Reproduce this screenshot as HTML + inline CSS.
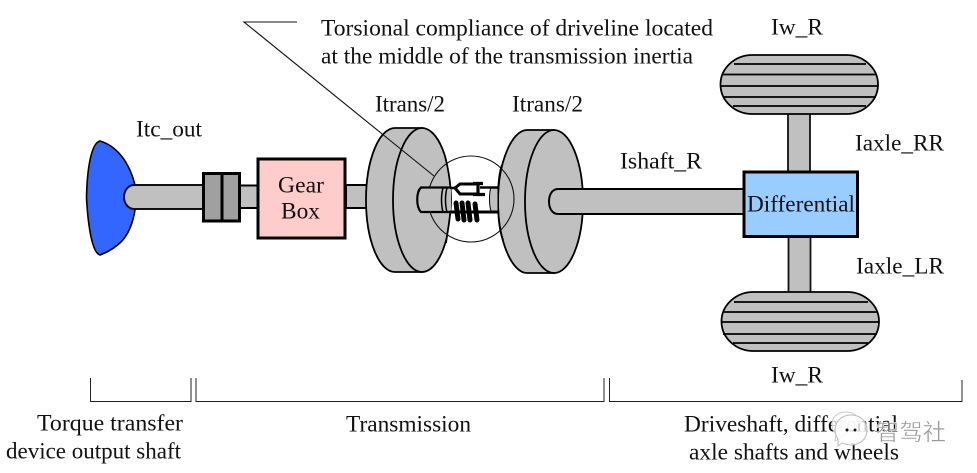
<!DOCTYPE html>
<html>
<head>
<meta charset="utf-8">
<style>
html,body{margin:0;padding:0;background:#fff;width:977px;height:473px;overflow:hidden}
svg{display:block}
text{font-family:"Liberation Serif","Noto Serif CJK SC",serif;font-size:23px;fill:#111}
</style>
</head>
<body>
<svg width="977" height="473" viewBox="0 0 977 473" xmlns="http://www.w3.org/2000/svg">
<rect width="977" height="473" fill="#fff"/>

<!-- Torque device -->
<path d="M100 141 C120 147 132 168 136 190 C137 210 132 230 122 241 C115 248 108 252 100 255 C92 253 88 225 86.500 198 C87 170 91 143 100 141Z" fill="#3366ff" stroke="#000" stroke-width="1.600"/>
<path d="M203 185 H134 C128 185 124 191 124 197 C124 203 128 209 134 209 H203" fill="#c0c0c0" stroke="#111" stroke-width="2"/>

<!-- Coupling + gearbox -->
<rect x="240" y="185.500" width="18" height="22.500" fill="#c0c0c0" stroke="#000" stroke-width="2"/>
<rect x="346" y="185" width="22" height="23" fill="#c0c0c0" stroke="#000" stroke-width="2"/>
<rect x="203.500" y="173.500" width="36" height="47.500" fill="#a0a0a0" stroke="#000" stroke-width="3"/>
<line x1="222" y1="173" x2="222" y2="221" stroke="#000" stroke-width="3"/>
<rect x="258" y="159" width="87" height="79" fill="#ffcccc" stroke="#000" stroke-width="3"/>

<!-- Disc 1 -->
<path d="M395 128 H422 V272 H395 C379 272 366 240 366 200 C366 160 379 128 395 128Z" fill="#c0c0c0" stroke="#000" stroke-width="1.800"/>
<ellipse cx="422" cy="200" rx="29" ry="72" fill="#c0c0c0" stroke="#000" stroke-width="1.800"/>

<!-- Disc 2 -->
<path d="M527 130 H554 V273 H527 C512 273 498 241 498 201.500 C498 162 512 130 527 130Z" fill="#c0c0c0" stroke="#000" stroke-width="1.800"/>
<ellipse cx="554" cy="201.500" rx="29" ry="71.500" fill="#c0c0c0" stroke="#000" stroke-width="1.800"/>

<!-- Middle gap filled white within circle -->
<path d="M445 156 C448 178 451 190 451 200 C451 215 448 228 446 243 Q471 245 498 232 C500 222 498 212 498 201 C498 188 500 175 501 168 Q476 148 445 156Z" fill="#fff"/>
<circle cx="471" cy="199" r="43" fill="none" stroke="#111" stroke-width="1.100"/>
<path d="M451 200 C451 215 448 228 446 243" fill="none" stroke="#000" stroke-width="1.800"/>
<path d="M445 156 C449 172 451 188 451 200" fill="none" stroke="#000" stroke-width="1.800"/>
<path d="M498 201 C498 180 500 170 502 165" fill="none" stroke="#000" stroke-width="1.800"/>
<path d="M498 201 C498 220 500 232 503 240" fill="none" stroke="#000" stroke-width="1.800"/>

<!-- Compliance detail -->
<path d="M451 187.500 H421 C416 192 416 207 421 212 H451" fill="#c0c0c0" stroke="#000" stroke-width="2.200"/>
<path d="M443 188 C441 195 441 205 443 212" fill="none" stroke="#000" stroke-width="1.500"/>
<path d="M447 188 C445 195 445 205 447 212" fill="none" stroke="#000" stroke-width="1.500"/>
<path d="M498 187 H491 C489 193 489 205 491 211 H498Z" fill="#c0c0c0" stroke="#000" stroke-width="1"/>
<path d="M450 188 H456 M498 187.500 H480" stroke="#000" stroke-width="2.400" fill="none"/>
<path d="M450 212 H498" stroke="#000" stroke-width="3" fill="none"/>
<path d="M455 188 L460 184 H478 M455 188 L460 194 H478" fill="#fff" stroke="#000" stroke-width="3"/>
<path d="M478 183 V195 M473 183.500 H483 M473 194.500 H485" stroke="#000" stroke-width="3.200" fill="none"/>
<path d="M456 203 L458 219 M462 203 L464 220 M468 203 L470 220 M475 204 L477 220" stroke="#000" stroke-width="5" stroke-linecap="round" fill="none"/>

<!-- Leader -->
<path d="M297 22 H244 L434 176" fill="none" stroke="#111" stroke-width="1.100"/>

<!-- Shaft right -->
<path d="M743 189 H558 C552 189 549 195 549 201.500 C549 208 552 214 558 214 H743" fill="#c0c0c0" stroke="#000" stroke-width="2"/>

<!-- Axles -->
<rect x="788" y="112" width="22" height="60" fill="#c0c0c0" stroke="#111" stroke-width="1.800"/>
<rect x="788.500" y="236" width="22" height="57" fill="#c0c0c0" stroke="#111" stroke-width="1.800"/>

<!-- Wheels -->
<rect x="720.500" y="55" width="157.500" height="59" rx="32" ry="29.500" fill="#c0c0c0" stroke="#000" stroke-width="1.800"/>
<path d="M734 64 H866 M723 74.500 H876 M721 86 H878 M723 97 H876 M733 106 H866" stroke="#000" stroke-width="1.800" fill="none"/>
<rect x="721.500" y="292" width="157.500" height="59" rx="32" ry="29.500" fill="#c0c0c0" stroke="#000" stroke-width="1.800"/>
<path d="M734 302 H868 M724 312 H877 M722 322 H879 M723 334 H877 M733 343 H868" stroke="#000" stroke-width="1.800" fill="none"/>

<!-- Differential -->
<rect x="744" y="172" width="113.500" height="64.500" fill="#99ccff" stroke="#000" stroke-width="3"/>

<!-- Brackets -->
<path d="M90.500 378 V401.500 H191 V378 M196 378 V401.500 H604 V378 M609.500 378 V401.500 H962 V380" fill="none" stroke="#222" stroke-width="1"/>

<!-- Labels -->
<g transform="translate(0,0.6)">
<text x="321" y="35" textLength="392" lengthAdjust="spacingAndGlyphs">Torsional compliance of driveline located</text>
<text x="321" y="63" textLength="372" lengthAdjust="spacingAndGlyphs">at the middle of the transmission inertia</text>
<text x="771" y="34" textLength="52" lengthAdjust="spacingAndGlyphs">Iw_R</text>
<text x="136" y="136" textLength="66" lengthAdjust="spacingAndGlyphs">Itc_out</text>
<text x="375" y="111" textLength="70" lengthAdjust="spacingAndGlyphs">Itrans/2</text>
<text x="512" y="111" textLength="71" lengthAdjust="spacingAndGlyphs">Itrans/2</text>
<text x="620" y="168" textLength="82" lengthAdjust="spacingAndGlyphs">Ishaft_R</text>
<text x="855" y="150" textLength="89" lengthAdjust="spacingAndGlyphs">Iaxle_RR</text>
<text x="856" y="273" textLength="88" lengthAdjust="spacingAndGlyphs">Iaxle_LR</text>
<text x="771" y="382" textLength="52" lengthAdjust="spacingAndGlyphs">Iw_R</text>
<text x="278" y="192" textLength="46" lengthAdjust="spacingAndGlyphs">Gear</text>
<text x="281" y="218" textLength="39" lengthAdjust="spacingAndGlyphs">Box</text>
<text x="747" y="211" textLength="108" lengthAdjust="spacingAndGlyphs">Differential</text>
<text x="37" y="430" textLength="146" lengthAdjust="spacingAndGlyphs">Torque transfer</text>
<text x="6" y="458" textLength="175" lengthAdjust="spacingAndGlyphs">device output shaft</text>
<text x="346" y="431" textLength="125" lengthAdjust="spacingAndGlyphs">Transmission</text>
<text x="684" y="431" textLength="214" lengthAdjust="spacingAndGlyphs">Driveshaft, differential</text>
<text x="689" y="459" textLength="210" lengthAdjust="spacingAndGlyphs">axle shafts and wheels</text>
</g>

<!-- Watermark -->
<path d="M832 424 C832 417 838 412 846 412 C853 412 859 416 860 422 L840 438 L835 441 L836 434 C833 431 832 428 832 424Z" fill="#fff" fill-opacity=".75" stroke="#ccc" stroke-width="1"/>
<path d="M835 430 C835 421 842 415 851 415 C860 415 867 421 867 430 C867 439 860 445 851 445 C848 445 845 444 842 443 L838 446 L838 439 C836 436 835 433 835 430Z" fill="#fff" fill-opacity=".8" stroke="#bbb" stroke-width="1"/>
<text x="876" y="440" style="font-family:'Noto Sans CJK SC',sans-serif;font-size:23px;fill:#9a9a9a;stroke:#fff;stroke-width:.4px" textLength="70" lengthAdjust="spacingAndGlyphs">智驾社</text>
<circle cx="847" cy="430" r="1.500" fill="#111"/><circle cx="855" cy="430" r="1.500" fill="#111"/>
</svg>
</body>
</html>
